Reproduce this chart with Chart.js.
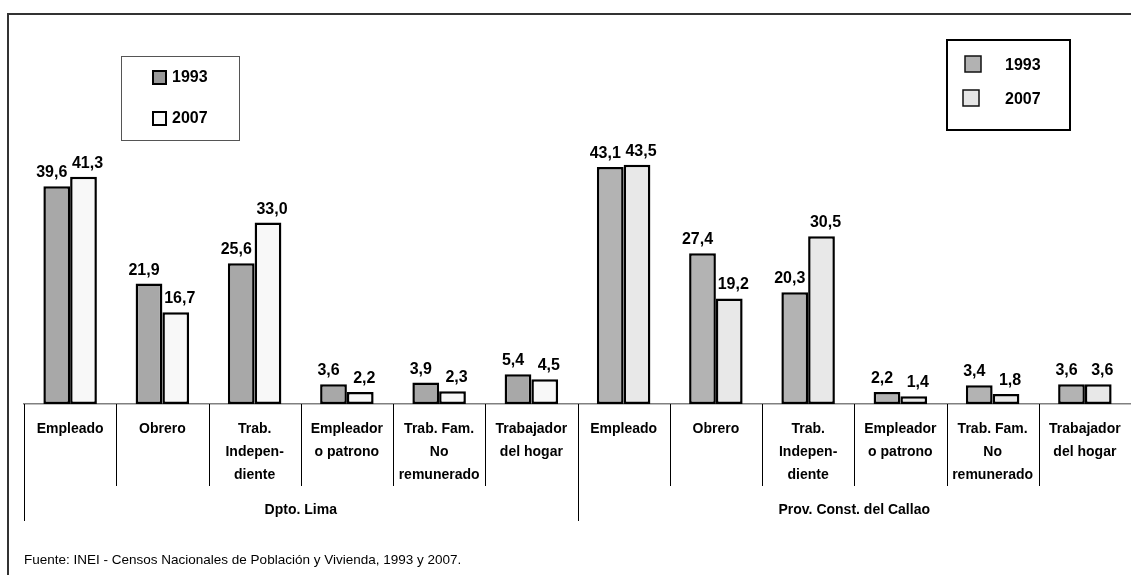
<!DOCTYPE html>
<html>
<head>
<meta charset="utf-8">
<script src="https://cdn.jsdelivr.net/npm/chart.js@4.4.0/dist/chart.umd.min.js"></script>
<style>
    html, body { margin: 0; padding: 0; background: #fff; }
    #wrap { width: 1131px; height: 575px; }
</style>
</head>
<body>
<div id="wrap"><canvas id="chart"></canvas></div>
<script>
// Occupational categories (same six for each area)
const categories = [
    ["Empleado"], ["Obrero"], ["Trab.", "Indepen-", "diente"], ["Empleador", "o patrono"], ["Trab. Fam.", "No", "remunerado"], ["Trabajador", "del hogar"],
    ["Empleado"], ["Obrero"], ["Trab.", "Indepen-", "diente"], ["Empleador", "o patrono"], ["Trab. Fam.", "No", "remunerado"], ["Trabajador", "del hogar"],
];
const groups = ["Dpto. Lima", "Prov. Const. del Callao"];
const seriesNames = ["1993", "2007"];
const values1993 = [39.6, 21.9, 25.6, 3.6, 3.9, 5.4, 43.1, 27.4, 20.3, 2.2, 3.4, 3.6];
const values2007 = [41.3, 16.7, 33.0, 2.2, 2.3, 4.5, 43.5, 19.2, 30.5, 1.4, 1.8, 3.6];
const sourceNote = "Fuente: INEI - Censos Nacionales de Población y Vivienda, 1993 y 2007.";

const FONT = '"Liberation Sans", Arial, sans-serif';
const perGroup = categories.length / groups.length;

// Lima and Callao use slightly different fills
function groupColors(lima, callao) {
    return categories.map((c, i) => i < perGroup ? lima : callao);
}

const fmt = v => v.toFixed(1).replace(".", ",");

const decor = {
    id: "decor",
    beforeDraw(chart) {
        const c = chart.ctx;
        c.save();
        c.fillStyle = "#fff";
        c.fillRect(0, 0, chart.width, chart.height);
        // outer frame (runs off the right and bottom edges)
        c.strokeStyle = "#333";
        c.lineWidth = 2;
        c.strokeRect(8, 14, chart.width + 20, chart.height + 20);
        c.restore();
    },
    afterDatasetsDraw(chart) {
        const c = chart.ctx;
        c.save();
        c.font = "bold 16px " + FONT;
        c.fillStyle = "#000";
        c.textAlign = "center";
        c.textBaseline = "alphabetic";
        const shift = [-5, 4];
        chart.data.datasets.forEach((ds, di) => {
            chart.getDatasetMeta(di).data.forEach((bar, i) => {
                c.fillText(fmt(ds.data[i]), bar.x + shift[di], bar.y - 9);
            });
        });
        c.restore();
    },
    afterDraw(chart) {
        const c = chart.ctx;
        const x = chart.scales.x;
        const w = x.width / categories.length;
        const base = x.top;
        c.save();
        // category separators
        c.strokeStyle = "#000";
        c.lineWidth = 1;
        for (let i = 0; i < categories.length; i++) {
            const px = Math.round(x.left + i * w) + 0.5;
            const bottom = i % perGroup === 0 ? 521 : 486;
            c.beginPath();
            c.moveTo(px, base);
            c.lineTo(px, bottom);
            c.stroke();
        }
        // group labels
        c.font = "bold 14px " + FONT;
        c.fillStyle = "#000";
        c.textAlign = "center";
        c.textBaseline = "middle";
        groups.forEach((g, gi) => {
            const cx = x.left + (gi + 0.5) * perGroup * w;
            c.fillText(g, cx, 510);
        });
        // source
        c.font = "13.5px " + FONT;
        c.textAlign = "left";
        c.fillText(sourceNote, 24, 560);

        // left legend
        c.strokeStyle = "#555";
        c.lineWidth = 1;
        c.strokeRect(121.5, 56.5, 118, 84);
        const leftFill = ["#999999", "#fafafa"];
        c.font = "bold 16px " + FONT;
        seriesNames.forEach((s, si) => {
            const y = 71 + si * 41;
            c.fillStyle = leftFill[si];
            c.fillRect(153, y, 13, 13);
            c.strokeStyle = "#000";
            c.lineWidth = 2;
            c.strokeRect(153, y, 13, 13);
            c.fillStyle = "#000";
            c.fillText(s, 172, y + 7);
        });

        // right legend
        c.strokeStyle = "#000";
        c.lineWidth = 2;
        c.strokeRect(947, 40, 123, 90);
        const rightFill = ["#b2b2b2", "#e6e6e6"];
        seriesNames.forEach((s, si) => {
            const y = 56 + si * 34;
            const bx = 965 - si * 2;
            c.fillStyle = rightFill[si];
            c.fillRect(bx, y, 16, 16);
            c.strokeStyle = "#111";
            c.lineWidth = 1.5;
            c.strokeRect(bx, y, 16, 16);
            c.fillStyle = "#000";
            c.fillText(s, 1005, y + 10);
        });
        c.restore();
    }
};

new Chart(document.getElementById("chart"), {
    type: "bar",
    data: {
        labels: categories,
        datasets: [{
            label: seriesNames[0],
            data: values1993,
            backgroundColor: groupColors("#a8a8a8", "#b3b3b3"),
            borderColor: "#000",
            borderWidth: 2.5,
            borderSkipped: false,
        }, {
            label: seriesNames[1],
            data: values2007,
            backgroundColor: groupColors("#f8f8f8", "#e8e8e8"),
            borderColor: "#000",
            borderWidth: 2.5,
            borderSkipped: false,
        }]
    },
    options: {
        responsive: true,
        maintainAspectRatio: false,
        animation: false,
        layout: { padding: { top: 74, left: 24, right: 0, bottom: 0 } },
        datasets: { bar: { barPercentage: 1, categoryPercentage: 0.58 } },
        plugins: { legend: { display: false }, tooltip: { enabled: false } },
        scales: {
            x: {
                offset: true,
                grid: { display: false },
                border: { display: true, color: "#808080", width: 1.5 },
                ticks: {
                    autoSkip: false, maxRotation: 0, minRotation: 0,
                    padding: 6, color: "#000",
                    font: { family: FONT, weight: "bold", size: 14, lineHeight: "23px" },
                },
                afterFit: s => { s.height = 171; },
            },
            y: { display: false, min: 0, max: 60 },
        },
    },
    plugins: [decor],
});
</script>
</body>
</html>
